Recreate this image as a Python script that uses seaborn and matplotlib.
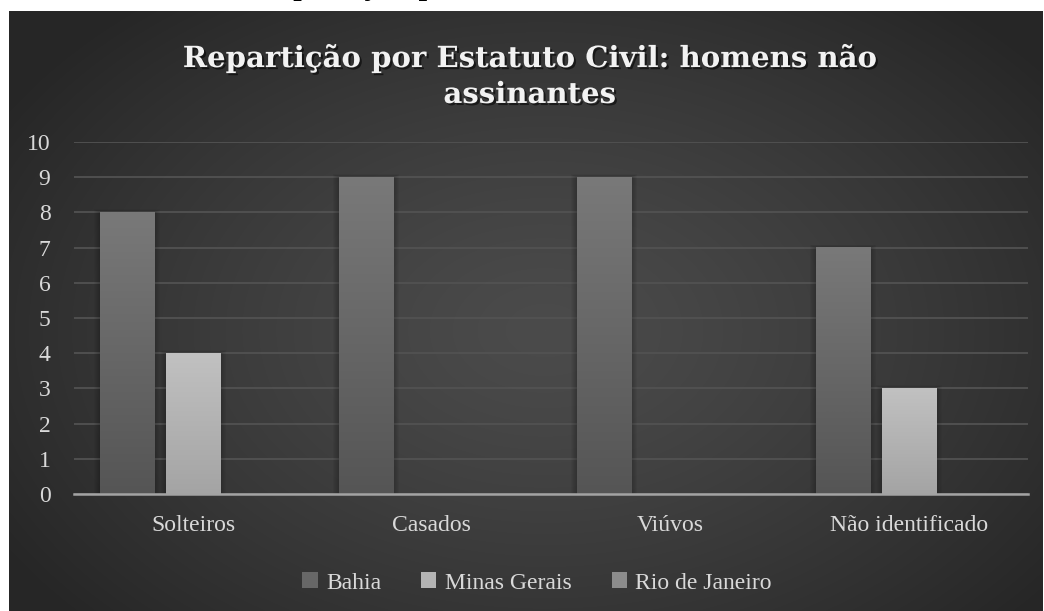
import numpy as np
import pandas as pd
import seaborn as sns
import matplotlib
matplotlib.use("Agg")
import matplotlib.pyplot as plt
import matplotlib.patheffects as pe
from matplotlib.colors import LinearSegmentedColormap, to_rgb
from matplotlib.patches import Rectangle

# --- data -------------------------------------------------------------
categorias = ["Solteiros", "Casados", "Viúvos", "Não identificado"]
estados = ["Bahia", "Minas Gerais", "Rio de Janeiro"]
bahia = [8, 9, 9, 7]
minas_gerais = [4, 0, 0, 3]
rio_de_janeiro = [0, 0, 0, 0]
y_ticks = list(range(0, 11))
titulo = "Repartição por Estatuto Civil: homens não\nassinantes"

df = pd.DataFrame({
    "estado_civil": categorias * 3,
    "estado": np.repeat(estados, len(categorias)),
    "homens": bahia + minas_gerais + rio_de_janeiro,
})

# --- styling ----------------------------------------------------------
sns.set_style("dark")
plt.rcParams["font.family"] = ["Liberation Serif", "DejaVu Serif"]

serie_cores = ["#676767", "#b4b4b4", "#8c8c8c"]
serie_grad = [("#797979", "#555555"), ("#c1c1c1", "#a4a4a4"), ("#969696", "#7a7a7a")]
texto = "#d9d9d9"

W, H = 1044, 611
fig = plt.figure(figsize=(W / 100, H / 100), dpi=100)
fig.patch.set_facecolor("white")

# radial grey backdrop of the chart area
bg = fig.add_axes([9 / W, 0, 1034 / W, 600 / H])
bg.axis("off")
yy, xx = np.mgrid[0:600, 0:1034]
px, py = xx + 9, yy + 11
d = np.sqrt(((px - 545) / 640.0) ** 2 + ((py - 330) / 430.0) ** 2)
d = np.clip(d, 0, 1) ** 1.3
c_in, c_out = np.array(to_rgb("#4b4b4b")), np.array(to_rgb("#262626"))
img = c_in[None, None, :] * (1 - d[..., None]) + c_out[None, None, :] * d[..., None]
bg.imshow(img, aspect="auto", interpolation="bilinear")

# plotting area
ax = fig.add_axes([74 / W, (H - 494) / H, 954 / W, 352 / H])
ax.patch.set_alpha(0)

sns.barplot(
    data=df, x="estado_civil", y="homens", hue="estado",
    order=categorias, hue_order=estados, palette=serie_cores,
    saturation=1, width=0.83, gap=0.18, legend=False,
    linewidth=0, ax=ax, zorder=3,
)

# soft shadows and vertical gradient fill on each bar
px_x, px_y = 4 / 954, 10 / 352
for i, cont in enumerate(ax.containers):
    cmap = LinearSegmentedColormap.from_list(f"g{i}", serie_grad[i])
    for bar in cont:
        h = bar.get_height()
        if h <= 0:
            continue
        x0, w = bar.get_x(), bar.get_width()
        for k in range(1, 7):
            ax.add_patch(Rectangle((x0 - k * px_x, 0), w + 2 * k * px_x, h + k * px_y * 0.5,
                                   facecolor="black", alpha=0.035, lw=0, zorder=2.5))
        ax.imshow(np.linspace(0, 1, 256).reshape(-1, 1), cmap=cmap,
                  extent=(x0, x0 + w, 0, h), aspect="auto", origin="upper",
                  interpolation="bilinear", zorder=3.5)

ax.set_xlim(-0.5, 3.5)
ax.set_ylim(0, 10)
ax.set_yticks(y_ticks)
ax.set_aspect("auto")
ax.grid(axis="y", color="#525252", lw=1.3)
ax.grid(axis="x", visible=False)
ax.set_axisbelow(True)
for s in ["left", "top", "right"]:
    ax.spines[s].set_visible(False)
ax.spines["bottom"].set_color("#a3a3a3")
ax.spines["bottom"].set_linewidth(1.8)
ax.spines["bottom"].set_zorder(5)
ax.tick_params(axis="both", length=0, labelcolor=texto, labelsize=17)
ax.tick_params(axis="y", pad=17)
ax.tick_params(axis="x", pad=15)
ax.set_xlabel("")
ax.set_ylabel("")

# title
fig.text(530 / W, 1 - 76 / H, titulo, ha="center", va="center",
         fontsize=21, fontweight="bold", family="DejaVu Serif", color="#f2f2f2",
         linespacing=1.3,
         path_effects=[pe.withSimplePatchShadow(offset=(1.5, -1.5),
                                                shadow_rgbFace="black", alpha=0.55)])

# running heading of the page above the chart
fig.text(253 / W, 1 + 7 / H, "Repartição por Estatuto Civil", ha="left", va="baseline",
         fontsize=26, color="black")

# legend
handles = [Rectangle((0, 0), 1, 1, facecolor=c, lw=0) for c in serie_cores]
fig.legend(handles, estados, loc="center", bbox_to_anchor=(537 / W, 1 - 583 / H),
           ncol=3, frameon=False, prop={"size": 17}, labelcolor=texto,
           handlelength=0.65, handleheight=0.65, handletextpad=0.35, columnspacing=1.7)

fig.savefig("out.png", dpi=100)
